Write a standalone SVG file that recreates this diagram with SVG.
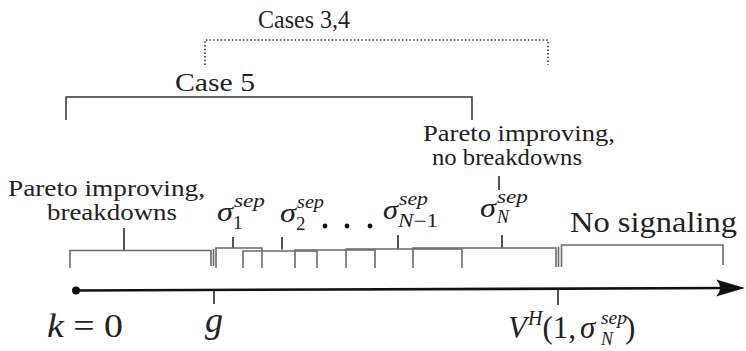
<svg xmlns="http://www.w3.org/2000/svg" width="746" height="351" viewBox="0 0 746 351">
<rect width="746" height="351" fill="#fff"/>

<g id="cases34">
  <path d="M205,65 V40 H548 V65" fill="none" stroke="#333" stroke-width="1.6" stroke-dasharray="1.5 2.2"/>
  <text font-family="Liberation Serif" fill="#222" x="258" y="28" font-size="25" textLength="92" lengthAdjust="spacingAndGlyphs">Cases 3,4</text>
</g>
<g id="case5">
  <path d="M66,120 V97 H472 V120" fill="none" stroke="#333" stroke-width="1.5"/>
  <text font-family="Liberation Serif" fill="#222" x="175" y="91" font-size="25" textLength="80" lengthAdjust="spacingAndGlyphs">Case 5</text>
</g>

<g id="pareto-breakdowns" fill="none" stroke="#6a6a6a" stroke-width="1.6">
  <text font-family="Liberation Serif" stroke="none" fill="#222" x="8" y="196" font-size="24" textLength="197" lengthAdjust="spacingAndGlyphs">Pareto improving,</text>
  <text font-family="Liberation Serif" stroke="none" fill="#222" x="47" y="220" font-size="24" textLength="130" lengthAdjust="spacingAndGlyphs">breakdowns</text>
  <line x1="124" y1="228" x2="124" y2="250" stroke="#1a1a1a" stroke-width="1.5"/>
  <path d="M70,268 V250.5 H211 V266"/>
  <line x1="213.5" y1="249" x2="213.5" y2="266"/>
</g>

<g id="pareto-nobreakdowns">
  <text font-family="Liberation Serif" fill="#222" x="423" y="141" font-size="24" textLength="192" lengthAdjust="spacingAndGlyphs">Pareto improving,</text>
  <text font-family="Liberation Serif" fill="#222" x="432" y="165" font-size="24" textLength="150" lengthAdjust="spacingAndGlyphs">no breakdowns</text>
  <line x1="499" y1="176" x2="499" y2="190" stroke="#1a1a1a" stroke-width="1.5"/>
</g>

<g id="sigma1" fill="none" stroke="#6a6a6a" stroke-width="1.6">
  <text font-family="Liberation Serif" font-style="italic" stroke="none" fill="#222" x="217" y="221" font-size="27" textLength="16" lengthAdjust="spacingAndGlyphs">σ</text>
  <text font-family="Liberation Serif" font-style="italic" stroke="none" fill="#222" x="234" y="207" font-size="19" textLength="31" lengthAdjust="spacingAndGlyphs">sep</text>
  <text font-family="Liberation Serif" stroke="none" fill="#222" x="233" y="229" font-size="19">1</text>
  <line x1="233" y1="237" x2="233" y2="248" stroke="#1a1a1a" stroke-width="1.5"/>
  <path d="M216,268 V248 H262 V268"/>
</g>
<g id="sigma2" fill="none" stroke="#6a6a6a" stroke-width="1.6">
  <text font-family="Liberation Serif" font-style="italic" stroke="none" fill="#222" x="280" y="222" font-size="27" textLength="16" lengthAdjust="spacingAndGlyphs">σ</text>
  <text font-family="Liberation Serif" font-style="italic" stroke="none" fill="#222" x="297" y="208" font-size="19" textLength="27" lengthAdjust="spacingAndGlyphs">sep</text>
  <text font-family="Liberation Serif" stroke="none" fill="#222" x="296" y="230" font-size="19">2</text>
  <line x1="282" y1="237" x2="282" y2="249.5" stroke="#1a1a1a" stroke-width="1.5"/>
  <path d="M243,268 V251 H317 V268"/>
</g>
<g id="dots" fill="none" stroke="#6a6a6a" stroke-width="1.6">
  <circle cx="325" cy="226" r="2.4" fill="#111" stroke="none"/>
  <circle cx="347" cy="226" r="2.4" fill="#111" stroke="none"/>
  <circle cx="370" cy="226" r="2.4" fill="#111" stroke="none"/>
  <path d="M295,268 V250 H375 V268"/>
</g>
<g id="sigmaN1" fill="none" stroke="#6a6a6a" stroke-width="1.6">
  <text font-family="Liberation Serif" font-style="italic" stroke="none" fill="#222" x="383" y="219" font-size="27" textLength="15" lengthAdjust="spacingAndGlyphs">σ</text>
  <text font-family="Liberation Serif" font-style="italic" stroke="none" fill="#222" x="399" y="205" font-size="19" textLength="29" lengthAdjust="spacingAndGlyphs">sep</text>
  <text font-family="Liberation Serif" stroke="none" fill="#222" x="398" y="227" font-size="18" textLength="40" lengthAdjust="spacingAndGlyphs"><tspan font-style="italic">N</tspan>−1</text>
  <line x1="398" y1="235" x2="398" y2="249" stroke="#1a1a1a" stroke-width="1.5"/>
  <path d="M346,268 V249 H462 V268"/>
</g>
<g id="sigmaN" fill="none" stroke="#6a6a6a" stroke-width="1.6">
  <text font-family="Liberation Serif" font-style="italic" stroke="none" fill="#222" x="480" y="217" font-size="27" textLength="16" lengthAdjust="spacingAndGlyphs">σ</text>
  <text font-family="Liberation Serif" font-style="italic" stroke="none" fill="#222" x="497" y="203" font-size="19" textLength="31" lengthAdjust="spacingAndGlyphs">sep</text>
  <text font-family="Liberation Serif" font-style="italic" stroke="none" fill="#222" x="497" y="223" font-size="18">N</text>
  <line x1="502" y1="235" x2="502" y2="248" stroke="#1a1a1a" stroke-width="1.5"/>
  <path d="M413,268 V248 H556 V267"/>
  <line x1="558.5" y1="247" x2="558.5" y2="267"/>
</g>
<g id="nosignaling" fill="none" stroke="#6a6a6a" stroke-width="1.6">
  <text font-family="Liberation Serif" stroke="none" fill="#222" x="570" y="232" font-size="30" textLength="167" lengthAdjust="spacingAndGlyphs">No signaling</text>
  <path d="M561.5,267 V245 H723 V265"/>
</g>

<g id="connectors">
  <line x1="76" y1="290.5" x2="726" y2="288" stroke="#111" stroke-width="2.6"/>
  <path d="M745,288 L716,279.5 Q724,288 716,296.5 Z" fill="#111"/>
  <circle cx="76" cy="290.5" r="4" fill="#111"/>
  <line x1="214" y1="290" x2="214" y2="304" stroke="#1a1a1a" stroke-width="1.5"/>
  <line x1="558" y1="288" x2="558" y2="305" stroke="#1a1a1a" stroke-width="1.5"/>
</g>

<g id="k0">
  <text font-family="Liberation Serif" fill="#222" x="47" y="337" font-size="34" textLength="76" lengthAdjust="spacingAndGlyphs"><tspan font-style="italic">k</tspan> = 0</text>
</g>
<g id="g">
  <text font-family="Liberation Serif" font-style="italic" fill="#222" x="205" y="332" font-size="36">g</text>
</g>
<g id="vh">
  <text font-family="Liberation Serif" fill="#222" x="508" y="338" font-size="31"><tspan font-style="italic">V</tspan><tspan font-size="20" font-style="italic" dy="-13" dx="1">H</tspan><tspan dy="13">(1,</tspan><tspan font-style="italic" dx="4">σ</tspan></text>
  <text font-family="Liberation Serif" font-style="italic" fill="#222" x="601" y="324" font-size="19" textLength="26" lengthAdjust="spacingAndGlyphs">sep</text>
  <text font-family="Liberation Serif" font-style="italic" fill="#222" x="601" y="345" font-size="18">N</text>
  <text font-family="Liberation Serif" fill="#222" x="625" y="338" font-size="31">)</text>
</g>
</svg>
